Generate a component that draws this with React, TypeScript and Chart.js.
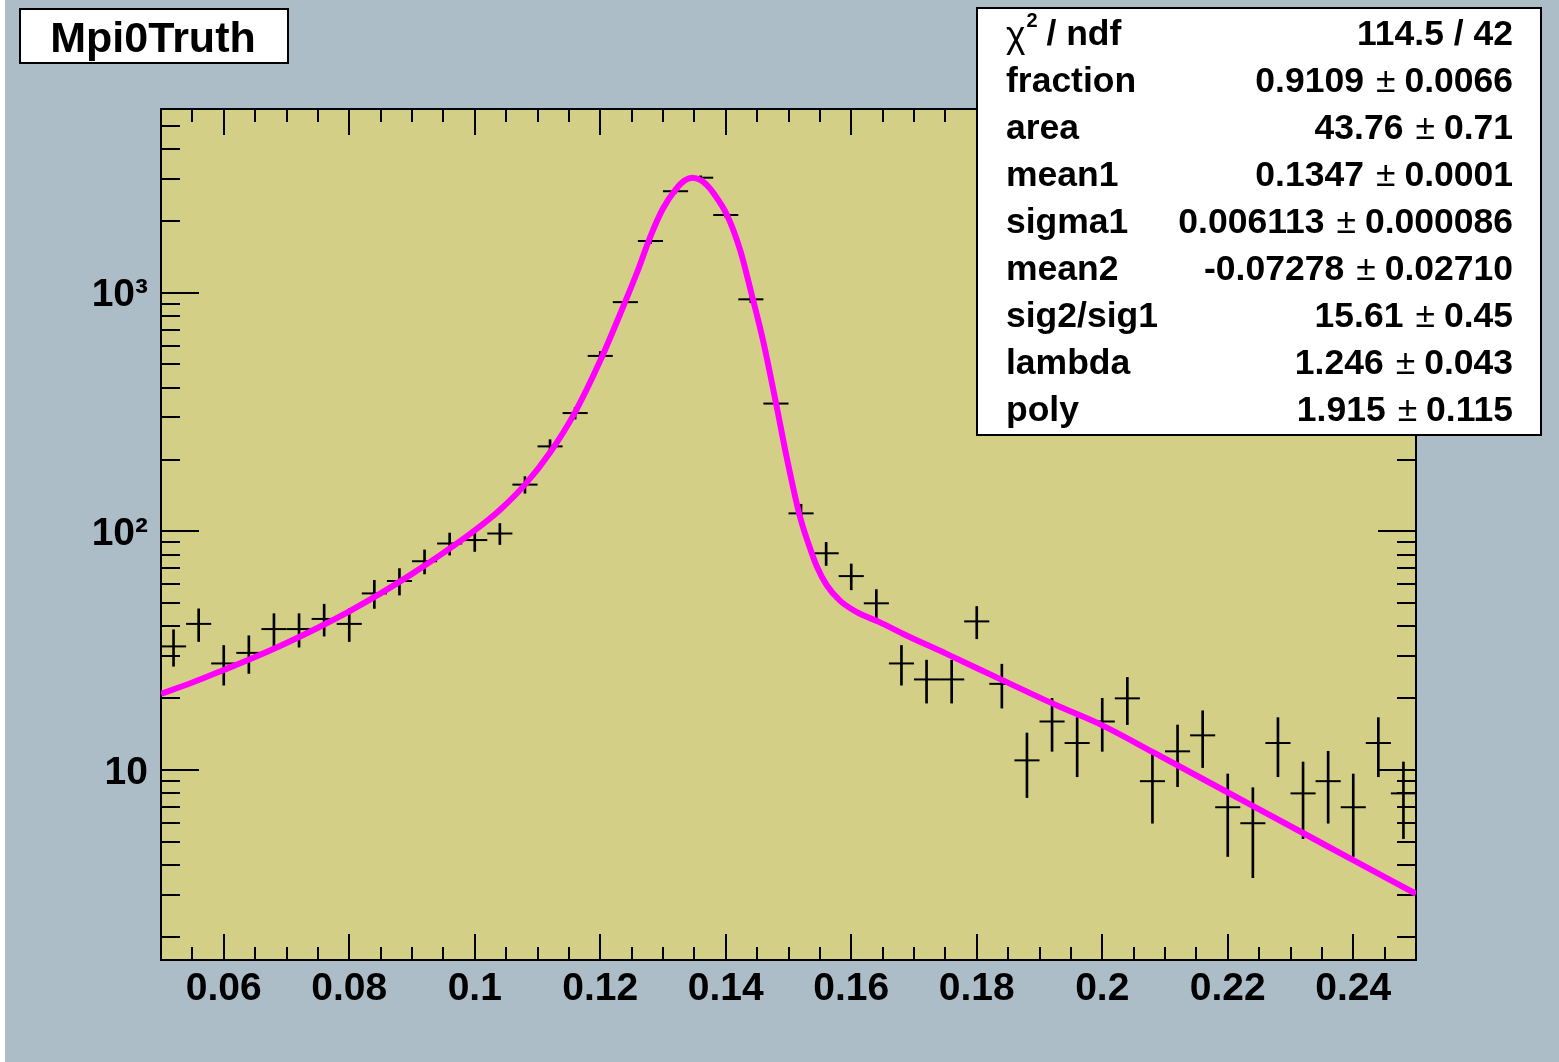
import React, { useEffect, useRef } from 'react';
import { Chart, registerables } from 'chart.js';

Chart.register(...registerables);

// ---------- data ----------
const BIN_CENTERS = [
  0.052, 0.056, 0.060, 0.064, 0.068, 0.072, 0.076, 0.080, 0.084, 0.088,
  0.092, 0.096, 0.100, 0.104, 0.108, 0.112, 0.116, 0.120, 0.124, 0.128,
  0.132, 0.136, 0.140, 0.144, 0.148, 0.152, 0.156, 0.160, 0.164, 0.168,
  0.172, 0.176, 0.180, 0.184, 0.188, 0.192, 0.196, 0.200, 0.204, 0.208,
  0.212, 0.216, 0.220, 0.224, 0.228, 0.232, 0.236, 0.240, 0.244, 0.248,
];
const BIN_COUNTS = [
  33, 41, 28, 31, 39, 39, 43, 41, 55, 62,
  75, 89, 92, 98, 157, 227, 313, 543, 912, 1644,
  2657, 3027, 2113, 937, 343, 119, 81, 65, 50, 28,
  24, 24, 42, 23, 11, 16, 13, 16, 20, 9,
  12, 14, 7, 6, 13, 8, 9, 7, 13, 8,
];
const BIN_WIDTH = 0.004;

const FIT_X = [
  0.050, 0.055, 0.060, 0.065, 0.070, 0.075, 0.080, 0.085, 0.090, 0.095,
  0.100, 0.104, 0.108, 0.112, 0.116, 0.120, 0.124, 0.126, 0.128, 0.130,
  0.132, 0.1335, 0.1347, 0.136, 0.137, 0.138, 0.1402, 0.1423, 0.1441, 0.1460,
  0.1481, 0.1497, 0.1518, 0.1532, 0.1545, 0.1561, 0.1582, 0.1609, 0.1645, 0.1683,
  0.1752, 0.1840, 0.1927, 0.1996, 0.2081, 0.2201, 0.2320, 0.2400, 0.2500,
];
const FIT_Y = [
  20.9, 23.3, 26.3, 29.8, 34.1, 39.5, 46.3, 55.0, 66.4, 81.3,
  101, 123, 157, 214, 316, 519, 919, 1240, 1720, 2250,
  2700, 2950, 3027, 2960, 2820, 2620, 2113, 1505, 990, 620,
  335, 205, 116, 88.5, 71.5, 59.5, 51.3, 45.9, 41.7, 37.2,
  30.7, 23.9, 18.7, 15.6, 11.9, 8.05, 5.46, 4.2, 3.04,
];

const X_MIN = 0.05;
const X_MAX = 0.25;
const X_TICKS = [0.06, 0.08, 0.10, 0.12, 0.14, 0.16, 0.18, 0.20, 0.22, 0.24];
const X_TICK_LABELS = ['0.06', '0.08', '0.1', '0.12', '0.14', '0.16', '0.18', '0.2', '0.22', '0.24'];
const X_MINOR_STEP = 0.005;

const Y_MIN = 1.605;
const Y_MAX = 5870;
const Y_TICKS = [10, 100, 1000];
const Y_TICK_LABELS = ['10', '10\u00B2', '10\u00B3'];
const Y_DECADES = [1, 10, 100, 1000];

const TITLE = 'Mpi0Truth';
const STAT_NAMES = ['fraction', 'area', 'mean1', 'sigma1', 'mean2', 'sig2/sig1', 'lambda', 'poly'];
const STAT_VALUES = ['0.9109', '43.76', '0.1347', '0.006113', '-0.07278', '15.61', '1.246', '1.915'];
const STAT_ERRORS = ['0.0066', '0.71', '0.0001', '0.000086', '0.02710', '0.45', '0.043', '0.115'];
const CHI2_TEXT = '114.5 / 42';

// ---------- style / layout ----------
const W = 1559;
const H = 1062;
const PAD_COLOR = '#adbdc7';
const FRAME_COLOR = '#d4cf87';
const FIT_COLOR = '#ff00ff';
const FONT = '"Liberation Sans", Arial, Helvetica, sans-serif';
const AREA = { left: 161, top: 109, right: 1416, bottom: 960 };
const TITLE_BOX = { left: 20, top: 9, right: 288, bottom: 63 };
const STATS_BOX = { left: 977, top: 8, right: 1541, bottom: 435 };
const STATS_FIRST_ROW = 32;
const STATS_ROW_STEP = 47.1;

function line(ctx: CanvasRenderingContext2D, x1: number, y1: number, x2: number, y2: number) {
  ctx.beginPath();
  ctx.moveTo(x1, y1);
  ctx.lineTo(x2, y2);
  ctx.stroke();
}

const rootPlugin = {
  id: 'rootStyle',
  beforeDraw(chart: any) {
    const { ctx, width, height, chartArea: a } = chart;
    ctx.save();
    ctx.fillStyle = PAD_COLOR;
    ctx.fillRect(0, 0, width, height);
    ctx.fillStyle = '#ffffff';
    ctx.fillRect(0, 0, 5, height);
    ctx.fillStyle = FRAME_COLOR;
    ctx.fillRect(a.left, a.top, a.right - a.left, a.bottom - a.top);
    ctx.restore();
  },
  beforeDatasetsDraw(chart: any) {
    const { ctx, chartArea: a } = chart;
    const xs = chart.scales.x;
    const ys = chart.scales.y;
    ctx.save();
    ctx.strokeStyle = '#000';
    ctx.lineWidth = 2;
    const nx = Math.round((X_MAX - X_MIN) / X_MINOR_STEP);
    for (let i = 1; i < nx; i++) {
      const v = X_MIN + i * X_MINOR_STEP;
      const major = X_TICKS.some((t) => Math.abs(t - v) < 1e-9);
      const len = major ? 26 : 13;
      const px = Math.round(xs.getPixelForValue(v));
      line(ctx, px, a.bottom, px, a.bottom - len);
      line(ctx, px, a.top, px, a.top + len);
    }
    for (const d of Y_DECADES) {
      for (let m = 1; m <= 9; m++) {
        const v = m * d;
        if (v <= Y_MIN || v >= Y_MAX) continue;
        const len = m === 1 ? 38 : 19;
        const py = Math.round(ys.getPixelForValue(v));
        line(ctx, a.left, py, a.left + len, py);
        line(ctx, a.right, py, a.right - len, py);
      }
    }
    ctx.strokeRect(a.left, a.top, a.right - a.left, a.bottom - a.top);
    ctx.restore();
  },
  afterDraw(chart: any) {
    const { ctx } = chart;
    ctx.save();
    // title box
    ctx.fillStyle = '#fff';
    ctx.strokeStyle = '#000';
    ctx.lineWidth = 2;
    const tb = TITLE_BOX;
    ctx.fillRect(tb.left, tb.top, tb.right - tb.left, tb.bottom - tb.top);
    ctx.strokeRect(tb.left, tb.top, tb.right - tb.left, tb.bottom - tb.top);
    ctx.fillStyle = '#000';
    ctx.font = `bold 43px ${FONT}`;
    ctx.textAlign = 'center';
    ctx.textBaseline = 'alphabetic';
    ctx.fillText(TITLE, (tb.left + tb.right) / 2 - 1, 52);

    // stats box
    const sb = STATS_BOX;
    ctx.fillStyle = '#fff';
    ctx.fillRect(sb.left, sb.top, sb.right - sb.left, sb.bottom - sb.top);
    ctx.strokeRect(sb.left, sb.top, sb.right - sb.left, sb.bottom - sb.top);
    ctx.fillStyle = '#000';
    const textLeft = 1006;
    const textRight = 1513;
    const fs = 35.5;
    const base = (i: number) => STATS_FIRST_ROW + i * STATS_ROW_STEP + 12.5;
    // chi2 row
    ctx.textAlign = 'left';
    ctx.font = `37px ${FONT}`;
    ctx.fillText('\u03C7', textLeft, base(0) + 2);
    const chiW = ctx.measureText('\u03C7').width;
    ctx.font = `bold 20px ${FONT}`;
    ctx.fillText('2', textLeft + chiW + 1, base(0) - 18);
    ctx.font = `bold ${fs}px ${FONT}`;
    ctx.fillText('/ ndf', textLeft + chiW + 21, base(0));
    ctx.textAlign = 'right';
    ctx.fillText(CHI2_TEXT, textRight, base(0));
    for (let i = 0; i < STAT_NAMES.length; i++) {
      const y = base(i + 1);
      ctx.textAlign = 'left';
      ctx.font = `bold ${fs}px ${FONT}`;
      ctx.fillText(STAT_NAMES[i], textLeft, y);
      ctx.textAlign = 'right';
      ctx.fillText(STAT_ERRORS[i], textRight, y);
      const errW = ctx.measureText(STAT_ERRORS[i]).width;
      ctx.font = `${fs}px ${FONT}`;
      const pmRight = textRight - errW - 9;
      ctx.fillText('\u00B1', pmRight, y);
      const pmW = ctx.measureText('\u00B1').width;
      ctx.font = `bold ${fs}px ${FONT}`;
      ctx.fillText(STAT_VALUES[i], pmRight - pmW - 12, y);
    }
    ctx.restore();
  },
};

export default function App() {
  const ref = useRef<HTMLCanvasElement>(null);
  useEffect(() => {
    const canvas = ref.current;
    if (!canvas) return;
    const fitData = FIT_X.map((x, i) => ({ x, y: FIT_Y[i] }));
    const binData = BIN_CENTERS.map((x, i) => ({ x, y: BIN_COUNTS[i] }));
    const errData = BIN_CENTERS.map((x, i) => {
      const c = BIN_COUNTS[i];
      const e = Math.sqrt(c);
      return { x, y: [c - e, c + e] };
    });
    const chart = new Chart(canvas, {
      type: 'scatter',
      data: {
        datasets: [
          {
            type: 'line',
            data: fitData,
            borderColor: FIT_COLOR,
            borderWidth: 6,
            pointRadius: 0,
            fill: false,
            cubicInterpolationMode: 'monotone',
            clip: 0,
            order: 0,
          } as any,
          {
            type: 'scatter',
            data: binData,
            pointStyle: 'line',
            pointRadius: (c: any) => {
              const s = c.chart.scales.x;
              return (s.getPixelForValue(X_MIN + BIN_WIDTH) - s.getPixelForValue(X_MIN)) / 2;
            },
            borderColor: '#000',
            backgroundColor: '#000',
            borderWidth: 2,
            clip: 0,
            order: 1,
          } as any,
          {
            type: 'bar',
            data: errData,
            backgroundColor: '#000',
            borderWidth: 0,
            barThickness: 2,
            grouped: false,
            clip: 0,
            order: 2,
          } as any,
        ],
      },
      options: {
        animation: false,
        responsive: false,
        maintainAspectRatio: false,
        events: [],
        layout: { padding: { left: 0, top: AREA.top, right: W - AREA.right, bottom: 0 } },
        plugins: { legend: { display: false }, tooltip: { enabled: false }, title: { display: false } },
        scales: {
          x: {
            type: 'linear',
            min: X_MIN,
            max: X_MAX,
            offset: false,
            grid: { display: false, drawTicks: false, offset: false },
            border: { display: false },
            afterBuildTicks: (s: any) => {
              s.ticks = X_TICKS.map((v) => ({ value: v }));
            },
            afterFit: (s: any) => {
              s.height = H - AREA.bottom;
            },
            ticks: {
              autoSkip: false,
              maxRotation: 0,
              minRotation: 0,
              padding: 6,
              color: '#000',
              font: { family: FONT, size: 39, weight: 'bold' },
              callback: (_v: any, i: number) => X_TICK_LABELS[i],
            },
          },
          y: {
            type: 'logarithmic',
            min: Y_MIN,
            max: Y_MAX,
            beginAtZero: false,
            grid: { display: false, drawTicks: false },
            border: { display: false },
            afterBuildTicks: (s: any) => {
              s.ticks = Y_TICKS.map((v) => ({ value: v }));
            },
            afterFit: (s: any) => {
              s.width = AREA.left;
            },
            ticks: {
              autoSkip: false,
              padding: 13,
              labelOffset: 3,
              color: '#000',
              font: { family: FONT, size: 39, weight: 'bold' },
              callback: (_v: any, i: number) => Y_TICK_LABELS[i],
            },
          },
        },
      } as any,
      plugins: [rootPlugin],
    });
    return () => chart.destroy();
  }, []);
  return (
    <div style={{ position: 'fixed', left: 0, top: 0, width: W, height: H, background: '#fff' }}>
      <canvas ref={ref} width={W} height={H} style={{ width: W, height: H, display: 'block' }} />
    </div>
  );
}
